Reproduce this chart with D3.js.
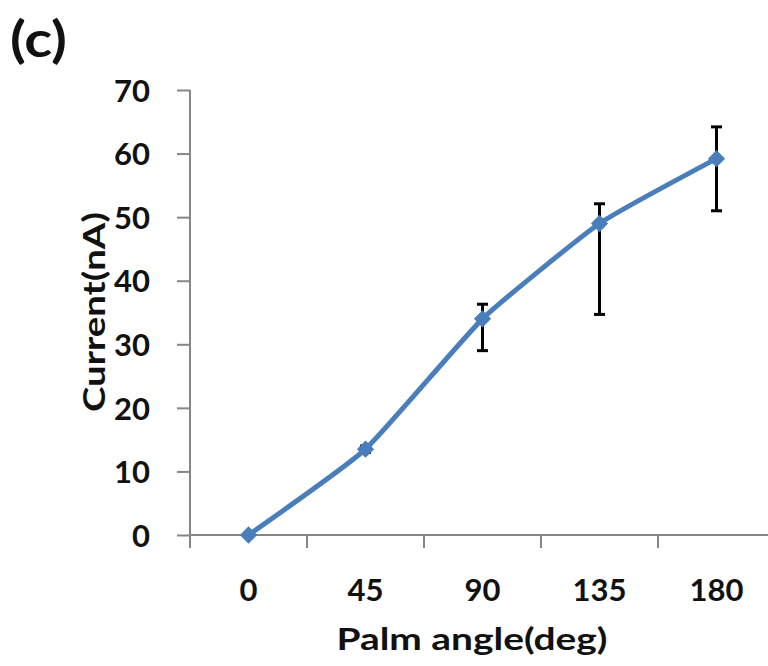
<!DOCTYPE html>
<html>
<head>
<meta charset="utf-8">
<script src="https://cdn.jsdelivr.net/npm/d3@7"></script>
<style>
  body { margin: 0; background: #fff; }
  text { font-family: Lato, "Open Sans", sans-serif; font-weight: bold; fill: #111; }
</style>
</head>
<body>
<svg id="chart" width="768" height="666"></svg>
<script>
// data
var angles = ["0", "45", "90", "135", "180"];
var current = [0, 13.5, 34, 49, 59.2];
var errLow = [0, 13.0, 29.0, 34.7, 51.0];
var errHigh = [0, 14.0, 36.3, 52.1, 64.2];
var yTicks = [0, 10, 20, 30, 40, 50, 60, 70];

var svg = d3.select("#chart"),
	left = 190,
	yTop = 90,
	yBottom = 535,
	bandW = 117,
	blue = "#4a7ebb",
	axisGrey = "#868686";

var x = d3.scaleBand()
	.domain(angles)
	.range([left, left + bandW * angles.length]);

var y = d3.scaleLinear()
	.domain([0, 70])
	.range([yBottom, yTop]);

// y axis
var yAxis = svg.append("g")
	.attr("transform", "translate(" + left + ",0)")
	.call(d3.axisLeft(y).tickValues(yTicks).tickSize(13).tickPadding(27));
yAxis.select(".domain").remove();
yAxis.selectAll(".tick line").attr("stroke", axisGrey).attr("stroke-width", 2);
yAxis.selectAll(".tick text")
	.attr("font-size", 31)
	.attr("dy", "0.36em")
	.style("font-family", "Lato, sans-serif")
	.style("font-weight", "bold")
	.attr("fill", "#111");
svg.append("line")
	.attr("x1", left).attr("x2", left)
	.attr("y1", yTop).attr("y2", yBottom + 13)
	.attr("stroke", axisGrey).attr("stroke-width", 2);

// x axis: category ticks sit between the categories
svg.append("line")
	.attr("x1", left).attr("x2", x.range()[1])
	.attr("y1", yBottom).attr("y2", yBottom)
	.attr("stroke", axisGrey).attr("stroke-width", 2);
svg.selectAll("line.xtick")
	.data(angles)
	.enter().append("line")
	.attr("class", "xtick")
	.attr("x1", function(d) { return x(d) + bandW; })
	.attr("x2", function(d) { return x(d) + bandW; })
	.attr("y1", yBottom).attr("y2", yBottom + 13)
	.attr("stroke", axisGrey).attr("stroke-width", 2);
svg.selectAll("text.xlab")
	.data(angles)
	.enter().append("text")
	.attr("class", "xlab")
	.attr("x", function(d) { return x(d) + bandW / 2; })
	.attr("y", 601)
	.attr("text-anchor", "middle")
	.attr("font-size", 31)
	.text(function(d) { return d; });

// error bars (behind the line)
var pts = angles.map(function(a, i) {
	return { a: a, v: current[i], lo: errLow[i], hi: errHigh[i] };
});
var cx = function(d) { return x(d.a) + bandW / 2; };
var bars = svg.selectAll("g.err")
	.data(pts.filter(function(d) { return d.hi > d.lo; }))
	.enter().append("g")
	.attr("class", "err")
	.attr("stroke", "#000")
	.attr("stroke-width", 3);
bars.append("line")
	.attr("x1", cx).attr("x2", cx)
	.attr("y1", function(d) { return y(d.lo); })
	.attr("y2", function(d) { return y(d.hi); });
bars.append("line")
	.attr("x1", function(d) { return cx(d) - 5.5; })
	.attr("x2", function(d) { return cx(d) + 5.5; })
	.attr("y1", function(d) { return y(d.hi); })
	.attr("y2", function(d) { return y(d.hi); });
bars.append("line")
	.attr("x1", function(d) { return cx(d) - 5.5; })
	.attr("x2", function(d) { return cx(d) + 5.5; })
	.attr("y1", function(d) { return y(d.lo); })
	.attr("y2", function(d) { return y(d.lo); });

// smoothed line
var line = d3.line()
	.x(cx)
	.y(function(d) { return y(d.v); })
	.curve(d3.curveCardinal.tension(0.55));
svg.append("path")
	.datum(pts)
	.attr("d", line)
	.attr("fill", "none")
	.attr("stroke", blue)
	.attr("stroke-width", 5)
	.attr("stroke-linejoin", "round");

// diamond markers
var diamond = d3.symbol().type(d3.symbolDiamond2).size(190);
svg.selectAll("path.marker")
	.data(pts)
	.enter().append("path")
	.attr("class", "marker")
	.attr("d", diamond)
	.attr("transform", function(d) { return "translate(" + cx(d) + "," + y(d.v) + ")"; })
	.attr("fill", blue);

// titles
svg.append("text")
	.attr("transform", "translate(105,312) rotate(-90)")
	.attr("text-anchor", "middle")
	.attr("font-size", 31)
	.attr("textLength", 200)
	.attr("lengthAdjust", "spacingAndGlyphs")
	.text("Current(nA)");
svg.append("text")
	.attr("x", 472).attr("y", 650)
	.attr("text-anchor", "middle")
	.attr("font-size", 31)
	.attr("textLength", 271)
	.attr("lengthAdjust", "spacingAndGlyphs")
	.text("Palm angle(deg)");
svg.append("text")
	.attr("x", 10).attr("y", 57)
	.attr("font-size", 50)
	.attr("textLength", 57)
	.attr("lengthAdjust", "spacingAndGlyphs")
	.text("(c)");
</script>
</body>
</html>
